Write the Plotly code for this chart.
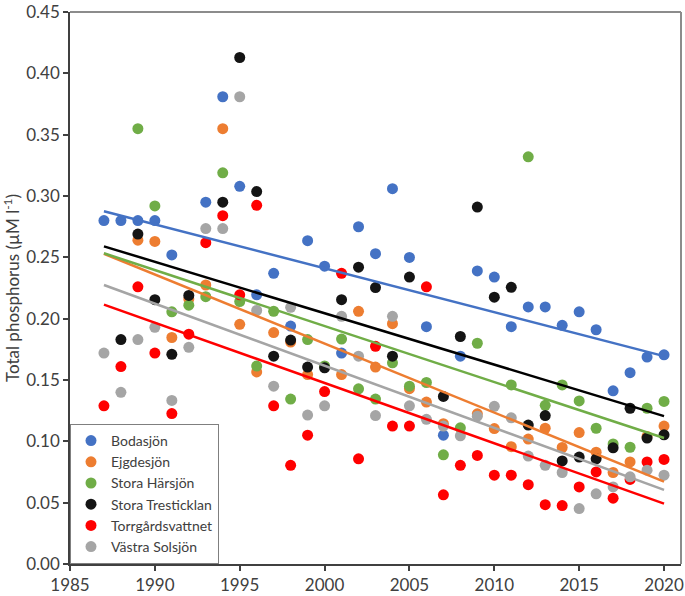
import plotly.graph_objects as go

years = list(range(1987, 2021))

series_names = ["Bodasjön", "Ejgdesjön", "Stora Härsjön", "Stora Tresticklan",
                "Torrgårdsvattnet", "Västra Solsjön"]
series_colors = ["#4472C4", "#ED7D31", "#70AD47", "#141414", "#FF0000", "#A5A5A5"]
trend_colors = ["#4472C4", "#ED7D31", "#70AD47", "#000000", "#FF0000", "#A5A5A5"]

bodasjon = [0.280, 0.280, 0.280, 0.280, 0.252, None, 0.295, 0.381, 0.308, 0.2195,
            0.237, 0.194, 0.2636, 0.2428, 0.172, 0.275, 0.253, 0.306, 0.250, 0.1935,
            0.105, 0.1695, 0.239, 0.234, 0.1935, 0.2096, 0.2096, 0.1946, 0.2056, 0.191,
            0.1412, 0.156, 0.1687, 0.1706]
ejgdesjon = [None, None, 0.264, 0.263, 0.1847, 0.216, 0.2275, 0.355, 0.1954, 0.1566,
             0.1887, 0.181, 0.1545, None, 0.1545, 0.206, 0.1606, 0.196, 0.143, 0.132,
             0.1144, None, 0.1225, 0.1104, 0.0957, 0.1019, 0.1107, 0.095, 0.1072, 0.0912,
             0.0746, 0.0832, 0.104, 0.1125]
stora_harsjon = [None, None, 0.355, 0.292, 0.2056, 0.211, 0.218, 0.319, 0.214, 0.1614,
                 0.2061, 0.1345, 0.183, 0.1615, 0.1834, 0.1428, 0.1345, 0.164, 0.145, 0.148,
                 0.089, 0.111, 0.180, None, 0.146, 0.332, 0.1294, 0.146, 0.133, 0.1107,
                 0.0979, 0.0952, 0.127, 0.1326]
stora_tresticklan = [None, 0.183, 0.269, 0.2155, 0.171, 0.219, None, 0.295, 0.413, 0.3037,
                     0.1695, 0.1826, 0.1606, 0.160, 0.2155, 0.242, 0.2254, 0.1695, 0.234, None,
                     0.1366, 0.1855, 0.291, 0.2176, 0.2256, 0.1133, 0.121, 0.084, 0.0872, 0.0858,
                     0.0947, 0.127, 0.1027, 0.1053]
torrgardsvattnet = [0.129, 0.161, 0.226, 0.172, 0.1227, 0.1874, 0.262, 0.284, 0.2195, 0.2925,
                    0.129, 0.0805, 0.105, 0.1406, 0.237, 0.0858, 0.1775, 0.1125, 0.1125, 0.226,
                    0.0564, 0.0805, 0.0885, 0.0724, 0.0724, 0.0647, 0.0484, 0.0476, 0.0628, 0.0751,
                    0.0537, 0.069, 0.0832, 0.0853]
vastra_solsjon = [0.172, 0.140, 0.183, 0.193, 0.1334, 0.1767, 0.2735, 0.2735, 0.381, 0.2067,
                  0.145, 0.2093, 0.1214, 0.129, 0.202, 0.1695, 0.121, 0.202, 0.129, 0.118,
                  0.1125, 0.1045, 0.1205, 0.1286, 0.1192, 0.088, 0.0805, 0.0746, 0.0452, 0.0572,
                  0.0628, 0.0711, 0.0765, 0.0724]

all_series = [bodasjon, ejgdesjon, stora_harsjon, stora_tresticklan, torrgardsvattnet, vastra_solsjon]

# linear trend line values at first and last year
trend_years = [1987, 2020]
trend_start = [0.2877, 0.2530, 0.2534, 0.2590, 0.2115, 0.2275]
trend_end = [0.1695, 0.0671, 0.1027, 0.1206, 0.0492, 0.0604]

x_ticks = [1985, 1990, 1995, 2000, 2005, 2010, 2015, 2020]
y_ticks = [0.00, 0.05, 0.10, 0.15, 0.20, 0.25, 0.30, 0.35, 0.40, 0.45]

FONT = "Lato"
TXT = "#404040"

fig = go.Figure()

for name, color, vals in zip(series_names, series_colors, all_series):
    fig.add_trace(go.Scatter(
        x=years, y=vals, mode="markers", name=name,
        marker=dict(color=color, size=11, line=dict(width=0)),
    ))

for name, color, y0, y1 in zip(series_names, trend_colors, trend_start, trend_end):
    fig.add_trace(go.Scatter(
        x=trend_years, y=[y0, y1], mode="lines", showlegend=False,
        line=dict(color=color, width=2.5), hoverinfo="skip", name=name + " trend",
    ))

fig.update_layout(
    width=685, height=596,
    margin=dict(l=70, r=1, t=6, b=29),
    paper_bgcolor="white", plot_bgcolor="white",
    font=dict(family=FONT, color=TXT),
    showlegend=True,
    legend=dict(
        x=0, y=0, xanchor="left", yanchor="bottom",
        bgcolor="white", bordercolor="#7f7f7f", borderwidth=1,
        font=dict(family=FONT, size=14, color=TXT),
        tracegroupgap=0,
    ),
    xaxis=dict(
        range=[1985, 2021], tickvals=x_ticks, ticktext=[str(t) for t in x_ticks],
        showgrid=False, zeroline=False,
        showline=True, linecolor="#404040", linewidth=1.5,
        ticks="outside", ticklen=5, tickcolor="#404040", tickwidth=1.5,
        tickfont=dict(family=FONT, size=17, color=TXT),
        ticklabeloverflow="allow",
    ),
    yaxis=dict(
        range=[0, 0.4501], tickvals=y_ticks, ticktext=[f"{t:.2f}" for t in y_ticks],
        showgrid=False, zeroline=False,
        showline=True, linecolor="#404040", linewidth=1.5,
        ticks="outside", ticklen=5, tickcolor="#404040", tickwidth=1.5,
        tickfont=dict(family=FONT, size=17, color=TXT),
        ticklabeloverflow="allow",
        title=dict(text="Total phosphorus (µM l<sup>-1</sup>)",
                   font=dict(family=FONT, size=17, color=TXT), standoff=8),
    ),
    shapes=[
        dict(type="line", xref="paper", yref="paper", x0=0, x1=1, y0=1, y1=1,
             line=dict(color="#8c8c8c", width=2)),
        dict(type="line", xref="paper", yref="paper", x0=1, x1=1, y0=0, y1=1,
             line=dict(color="#8c8c8c", width=2)),
    ],
)

fig.write_html("out.html", config={"displayModeBar": False},
               post_script="document.body.style.margin='0';")
